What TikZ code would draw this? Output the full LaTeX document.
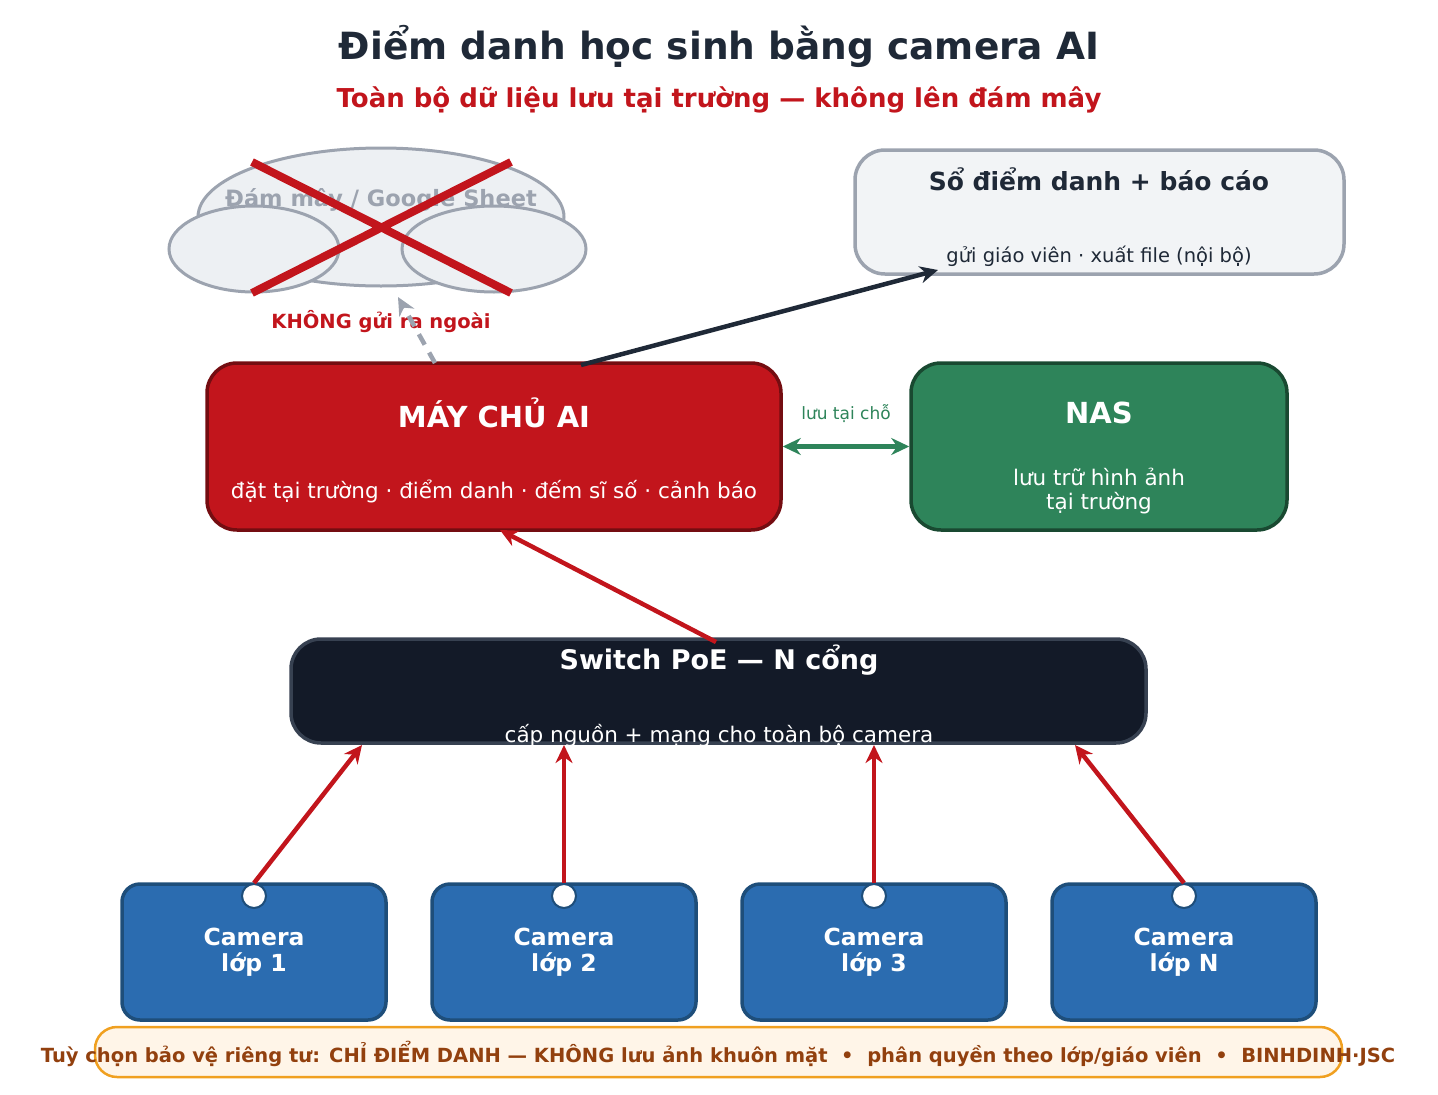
\documentclass[tikz,border=0pt]{standalone}
\usepackage{fontspec}
\setmainfont{DejaVu Sans}
\usetikzlibrary{arrows.meta}
\definecolor{tdark}{HTML}{1F2937}
\definecolor{tred}{HTML}{C2151C}
\definecolor{tgray}{HTML}{9CA3AF}
\definecolor{tgreen}{HTML}{2E845A}
\definecolor{tblue}{HTML}{2B6CB0}
\definecolor{tbrown}{HTML}{92400E}
\definecolor{camb}{HTML}{1E4E7A}
\begin{document}
\begin{tikzpicture}[x=1pt,y=-1pt,
 box/.style={draw,line width=3.5pt,rounded corners=30pt,inner sep=0},
 cam/.style={box,fill=tblue,draw=camb,rounded corners=18pt},
 tip/.style={Stealth[length=18pt,width=17pt]},
 arr/.style={line width=4.5pt,-{Stealth[length=18pt,width=17pt]}}]
\useasboundingbox (0,0) rectangle (1438,1095);
\node[font=\bfseries\fontsize{37.5}{37.5}\selectfont,text=tdark] (title) at (719,46) {Điểm danh học sinh bằng camera AI};
\node[font=\bfseries\fontsize{26}{26}\selectfont,text=tred] (sub) at (719,100) {Toàn bộ dữ liệu lưu tại trường — không lên đám mây};
% cloud
\definecolor{cloudf}{HTML}{EDF0F3}
\draw[fill=cloudf,draw=tgray,line width=3pt] (381,217) ellipse [x radius=183,y radius=69];
\draw[fill=cloudf,draw=tgray,line width=3pt] (254,249) ellipse [x radius=85,y radius=43];
\draw[fill=cloudf,draw=tgray,line width=3pt] (494,249) ellipse [x radius=92,y radius=43];
\node[font=\bfseries\fontsize{22.5}{22.5}\selectfont,text=tgray] (cloud) at (381,200) {Đám mây / Google Sheet};
\draw[tred,line width=8pt] (252,162) -- (511,293) (252,293) -- (511,162);
\node[font=\bfseries\fontsize{19.5}{19.5}\selectfont,text=tred] (khong) at (381,322) {KHÔNG gửi ra ngoài};
% so
\definecolor{sof}{HTML}{F2F4F6}
\node[box,fill=sof,draw=tgray,minimum width=489pt,minimum height=124pt] (so) at (1099.5,212) {};
\node[font=\bfseries\fontsize{25}{25}\selectfont,text=tdark] at (1099,179) {Sổ điểm danh + báo cáo};
\node[font=\fontsize{19.5}{19.5}\selectfont,text=tdark] at (1099,256) {gửi giáo viên · xuất file (nội bộ)};
% server
\node[box,fill=tred,draw=tred!60!black,minimum width=574pt,minimum height=167pt] (srv) at (494,446.5) {};
\node[font=\bfseries\fontsize{29}{29}\selectfont,text=white] at (494,413) {MÁY CHỦ AI};
\node[font=\fontsize{21.5}{21.5}\selectfont,text=white] at (494,491) {đặt tại trường · điểm danh · đếm sĩ số · cảnh báo};
% NAS
\node[box,fill=tgreen,draw=tgreen!55!black,minimum width=376pt,minimum height=167pt] (nas) at (1099,446.5) {};
\node[font=\bfseries\fontsize{29}{29}\selectfont,text=white] at (1099,413) {NAS};
\node[font=\fontsize{21.5}{21.5}\selectfont,text=white,align=center] at (1099,491) {lưu trữ hình ảnh\\[2pt]tại trường};
\draw[tgreen,line width=4.5pt,{Stealth[length=18pt,width=17pt]}-{Stealth[length=18pt,width=17pt]}] (srv.east) -- (nas.west);
\node[font=\fontsize{17}{17}\selectfont,text=tgreen] (luu) at (846,414) {lưu tại chỗ};
% switch
\definecolor{swf}{HTML}{131A28}
\definecolor{sws}{HTML}{374151}
\node[box,fill=swf,draw=sws,minimum width=855pt,minimum height=104pt] (sw) at (718.5,691) {};
\node[font=\bfseries\fontsize{27}{27}\selectfont,text=white] at (719,660) {Switch PoE — N cổng};
\node[font=\fontsize{21.5}{21.5}\selectfont,text=white] at (719,736) {cấp nguồn + mạng cho toàn bộ camera};
% arrows top
\coordinate (a1) at (581,365); \coordinate (a2) at (938,270);
\draw[arr,tdark] (a1) -- (a2);
\coordinate (d1) at (435,363); \coordinate (d2) at (398,297);
\draw[arr,tgray,dash pattern=on 12pt off 9pt] (d1) -- (d2);
\coordinate (s1) at (716,642); \coordinate (s2) at (500,530);
\draw[arr,tred] (s1) -- (s2);
% cameras
\foreach \i/\x/\t in {1/254/1,2/564/2,3/874/3,4/1184/N}{
 \node[cam,minimum width=264pt,minimum height=136pt] (cam\i) at (\x,952) {};
 \node[font=\bfseries\fontsize{23.5}{23.5}\selectfont,text=white,align=center] at (\x,952) {Camera\\[3pt]lớp \t};
 \node[circle,fill=white,draw=camb,line width=2pt,minimum size=24pt,inner sep=0] (c\i) at (\x,896) {};
}
\coordinate (t1) at (362,745); \coordinate (t2) at (564,745); \coordinate (t3) at (874,745); \coordinate (t4) at (1075,745);
\foreach \i in {1,...,4}{\draw[arr,tred] (c\i.north) -- (t\i);}
% footer
\definecolor{ftf}{HTML}{FFF5E8}
\definecolor{fts}{HTML}{F0A020}
\node[draw=fts,fill=ftf,line width=2.5pt,rounded corners=22pt,minimum width=1247pt,minimum height=50pt] (foot) at (718.5,1052) {};
\node[font=\bfseries\fontsize{19.5}{19.5}\selectfont,text=tbrown] at (718,1054) {Tuỳ chọn bảo vệ riêng tư: CHỈ ĐIỂM DANH — KHÔNG lưu ảnh khuôn mặt \ •\ \ phân quyền theo lớp/giáo viên \ •\ \ BINHDINH·JSC};
\end{tikzpicture}
\end{document}
